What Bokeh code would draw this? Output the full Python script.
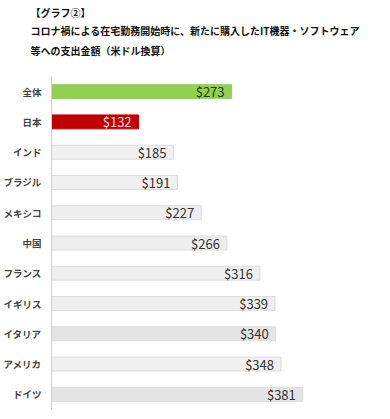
from bokeh.plotting import figure
from bokeh.models import ColumnDataSource, Title, FactorRange, Range1d
from bokeh.core.properties import value
from bokeh.embed import file_html
from bokeh.resources import INLINE

categories = ["全体", "日本", "インド", "ブラジル", "メキシコ", "中国", "フランス", "イギリス", "イタリア", "アメリカ", "ドイツ"]
amounts = [273, 132, 185, 191, 227, 266, 316, 339, 340, 348, 381]
value_labels = ["$273", "$132", "$185", "$191", "$227", "$266", "$316", "$339", "$340", "$348", "$381"]
title_lines = ["【グラフ②】", "コロナ禍による在宅勤務開始時に、新たに購入したIT機器・ソフトウェア", "等への支出金額（米ドル換算）"]

fills = ["#92D050", "#C00000", "#F0F0F0", "#F0F0F0", "#EEEEEE", "#EEEEEE", "#EEEEEE",
         "#EEEEEE", "#E4E4E4", "#EFEFEF", "#E4E4E4"]
lines = ["#92D050", "#C00000"] + ["#DCDCDC"] * 9
label_colors = ["#1F3A0F", "#FFE0E0"] + ["#333333"] * 9

src = ColumnDataSource(dict(cat=categories, amt=amounts, lab=value_labels,
                            fill=fills, line=lines, lc=label_colors))

FONT = "Noto Sans CJK JP"
W, H = 390, 419
LEFT, TOP, BOTTOM = 51, 76, 10

p = figure(width=W, height=H, output_backend="svg", toolbar_location=None,
           y_range=FactorRange(factors=list(reversed(categories))),
           x_range=Range1d(0, 514),
           min_border_left=LEFT, min_border_right=0, min_border_top=TOP, min_border_bottom=BOTTOM)
p.outline_line_color = None
p.background_fill_color = "white"
p.border_fill_color = "white"
p.xgrid.visible = False
p.ygrid.visible = False
p.xaxis.visible = False

p.hbar(y="cat", right="amt", left=0, height=0.46, source=src,
       fill_color="fill", line_color="line", line_width=1)
p.text(x="amt", y="cat", text="lab", source=src, x_offset=-7,
       text_align="right", text_baseline="middle", text_color="lc",
       text_font=value(FONT), text_font_size="13px")

ya = p.yaxis[0]
ya.axis_line_color = "#D0D0D0"
ya.major_tick_line_color = None
ya.minor_tick_line_color = None
ya.major_label_text_font = FONT
ya.major_label_text_font_size = "9.5px"
ya.major_label_text_font_style = "bold"
ya.major_label_text_color = "#444444"
ya.major_label_standoff = 4

# spacer between the title block and the plot area
p.add_layout(Title(text=" ", text_font_size="1px", standoff=14), "above")
# stacked titles: first added sits closest to the plot
standoffs = [3, 3, 0]
for t, so in zip(reversed(title_lines), standoffs):
    p.add_layout(Title(text=t, align="left", offset=30 - LEFT, standoff=so,
                       text_font=FONT, text_font_size="10px", text_font_style="bold",
                       text_color="#111111"), "above")

open("out.html", "w").write(file_html(p, INLINE))
